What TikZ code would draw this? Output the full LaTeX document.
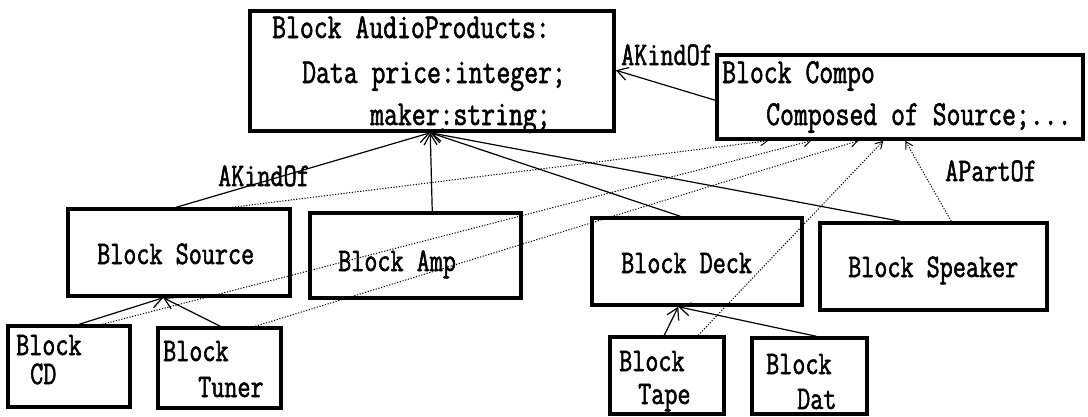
\documentclass[tikz,border=0pt]{standalone}
\usepackage{fontspec}
\newfontfamily\blockfont[FakeStretch=0.77, FakeBold=1.6]{Latin Modern Mono}
\usetikzlibrary{arrows.meta}

\begin{document}
\begin{tikzpicture}[x=1pt, y=-1pt,
	box/.style={draw, line width=3.5pt, inner sep=0pt},
	txt/.style={anchor=base west, inner sep=0pt, font=\blockfont\fontsize{33}{33}\selectfont},
	bigtxt/.style={txt, font=\blockfont\fontsize{35}{35}\selectfont},
	kindof/.style={line width=1.2pt, -{Straight Barb[length=11pt, width=13pt]}},
	partof/.style={line width=1pt, dash pattern=on 1.2pt off 1.6pt, -{Straight Barb[length=7pt, width=8pt]}}]
	\useasboundingbox[fill=white] (0,0) rectangle (1088,416);

	% blocks
	\node[box, minimum width=364pt, minimum height=120pt] (audio) at (432,71) {};
	\node[box, minimum width=366pt, minimum height=84pt] (compo) at (900,97) {};
	\node[box, minimum width=222pt, minimum height=87pt] (source) at (179,252.5) {};
	\node[box, minimum width=211pt, minimum height=85pt] (amp) at (415.5,255.5) {};
	\node[box, minimum width=210pt, minimum height=87pt] (deck) at (697,261.5) {};
	\node[box, minimum width=227pt, minimum height=87pt] (speaker) at (933.5,266.5) {};
	\node[box, minimum width=122pt, minimum height=81pt] (cd) at (69,366.5) {};
	\node[box, minimum width=123pt, minimum height=80pt] (tuner) at (219.5,368) {};
	\node[box, minimum width=114pt, minimum height=77pt] (tape) at (667,375.5) {};
	\node[box, minimum width=115pt, minimum height=76pt] (dat) at (809.5,376) {};

	% texts
	\node[bigtxt] (audio1) at (272,38) {Block AudioProducts:};
	\node[bigtxt] (audio2) at (302,83) {Data price:integer;};
	\node[bigtxt] (audio3) at (370,125) {maker:string;};
	\node[bigtxt] (compo1) at (722,83) {Block Compo};
	\node[bigtxt] (compo2) at (766,125) {Composed of Source;...};
	\node[txt] (source1) at (97,264) {Block Source};
	\node[txt] (amp1) at (338,271) {Block Amp};
	\node[txt] (deck1) at (621,273) {Block Deck};
	\node[txt] (speaker1) at (848,277) {Block Speaker};
	\node[txt] (cd1) at (16,355) {Block};
	\node[txt] (cd2) at (30,384) {CD};
	\node[txt] (tuner1) at (163,361) {Block};
	\node[txt] (tuner2) at (198,397) {Tuner};
	\node[txt] (tape1) at (619,371) {Block};
	\node[txt] (tape2) at (638,404) {Tape};
	\node[txt] (dat1) at (766,374) {Block};
	\node[txt] (dat2) at (797,409) {Dat};

	% AKindOf links
	\draw[kindof] ([yshift=-47pt]compo.north west) -- ([yshift=-61pt]audio.north east);
	\draw[kindof] ([xshift=110pt]source.north west) -- ([xshift=182pt]audio.south west);
	\draw[kindof] ([xshift=124pt]amp.north west) -- ([xshift=182pt]audio.south west);
	\draw[kindof] ([xshift=90pt]deck.north west) -- ([xshift=182pt]audio.south west);
	\draw[kindof] ([xshift=82pt]speaker.north west) -- ([xshift=182pt]audio.south west);
	\draw[kindof] ([xshift=73pt]cd.north west) -- ([xshift=97pt]source.south west);
	\draw[kindof] ([xshift=64pt]tuner.north west) -- ([xshift=97pt]source.south west);
	\draw[kindof] ([xshift=56pt]tape.north west) -- ([xshift=88pt]deck.south west);
	\draw[kindof] ([xshift=66pt]dat.north west) -- ([xshift=88pt]deck.south west);

	% APartOf links
	\draw[partof] ([xshift=166pt]source.north west) -- ([xshift=53pt]compo.south west);
	\draw[partof] ([xshift=96pt]cd.north west) -- ([xshift=96pt]compo.south west);
	\draw[partof] ([xshift=99pt]tuner.north west) -- ([xshift=143pt]compo.south west);
	\draw[partof] ([xshift=90pt]tape.north west) -- ([xshift=168pt]compo.south west);
	\draw[partof] ([xshift=133pt]speaker.north west) -- ([xshift=190pt]compo.south west);

	\node[txt] (kind1) at (621,65) {AKindOf};
	\node[txt] (kind2) at (218,186) {AKindOf};
	\node[txt] (part1) at (945,181) {APartOf};
\end{tikzpicture}
\end{document}
